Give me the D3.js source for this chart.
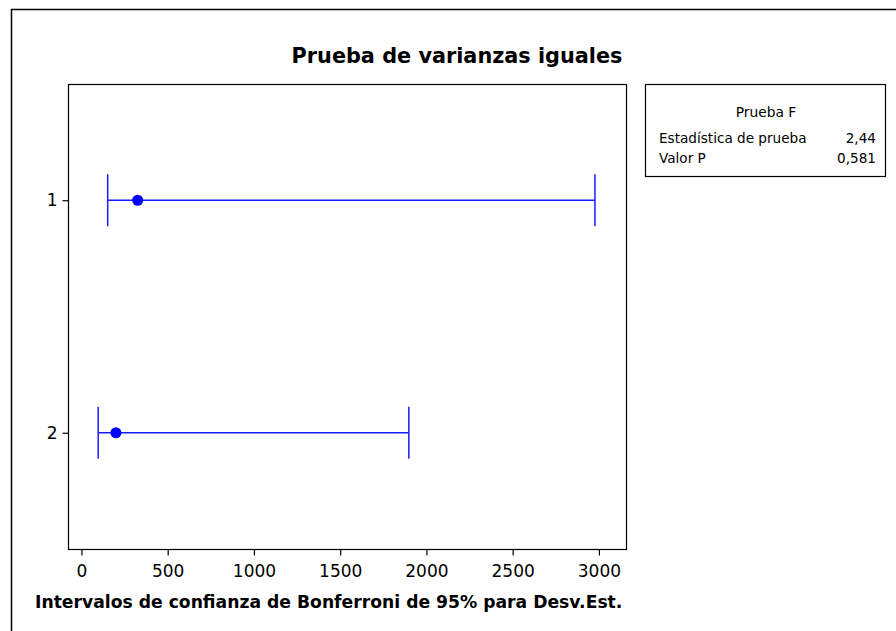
<!DOCTYPE html>
<html>
<head>
<meta charset="utf-8">
<script src="https://cdn.jsdelivr.net/npm/d3@7"></script>
<style>
  body { margin: 0; background: #fff; }
  text { font-family: "DejaVu Sans", sans-serif; }
</style>
</head>
<body>
<div id="chart"></div>
<script>
// data
var groups = ["1", "2"]
var lower  = [152, 97]
var sigma  = [326, 200]
var upper  = [2977, 1898]
var xTicks = [0, 500, 1000, 1500, 2000, 2500, 3000]
var legendTitle = "Prueba F"
var legendNames = ["Estadística de prueba", "Valor P"]
var legendValues = ["2,44", "0,581"]

var W = 896, H = 631
var pLeft = 68, pTop = 84, pRight = 626, pBottom = 549
var blue = "#1a1aff"

var svg = d3.select("#chart").append("svg")
  .attr("width", W)
  .attr("height", H)

// outer border (runs off the right and bottom)
svg.append("rect")
  .attr("x", 11.5).attr("y", 9.5)
  .attr("width", 900).attr("height", 640)
  .attr("fill", "none").attr("stroke", "#000").attr("stroke-width", 1.5)

// title
svg.append("text")
  .attr("x", 457).attr("y", 63)
  .attr("text-anchor", "middle")
  .attr("font-size", 20.8).attr("font-weight", "bold")
  .text("Prueba de varianzas iguales")

var x = d3.scaleLinear().domain([-78, 3157]).range([pLeft, pRight])
var y = d3.scalePoint().domain(groups).range([pTop, pBottom]).padding(0.5)

// plot frame
svg.append("rect")
  .attr("x", pLeft + 0.5).attr("y", pTop + 0.5)
  .attr("width", pRight - pLeft).attr("height", pBottom - pTop)
  .attr("fill", "none").attr("stroke", "#000").attr("stroke-width", 1.2)

// x axis
var gx = svg.append("g")
  .attr("transform", "translate(0," + (pBottom + 0.5) + ")")
  .call(d3.axisBottom(x).tickValues(xTicks).tickFormat(d3.format("d"))
    .tickSize(6).tickSizeOuter(0).tickPadding(9))
gx.select(".domain").remove()
gx.selectAll("line").attr("stroke", "#000").attr("stroke-width", 1.2)
gx.selectAll("text").attr("font-size", 17).attr("fill", "#000")
  .attr("font-family", "\"DejaVu Sans\", sans-serif")

// y axis
var gy = svg.append("g")
  .attr("transform", "translate(" + (pLeft + 0.5) + ",0)")
  .call(d3.axisLeft(y).tickSize(6).tickSizeOuter(0).tickPadding(5))
gy.select(".domain").remove()
gy.selectAll("line").attr("stroke", "#000").attr("stroke-width", 1.2)
gy.selectAll("text").attr("font-size", 17).attr("fill", "#000")
  .attr("font-family", "\"DejaVu Sans\", sans-serif")

// x axis title
svg.append("text")
  .attr("x", 35).attr("y", 608)
  .attr("font-size", 17.2).attr("font-weight", "bold")
  .text("Intervalos de confianza de Bonferroni de 95% para Desv.Est.")

// intervals
var g = svg.append("g")
for (var i = 0; i < groups.length; i++) {
  var yy = y(groups[i])
  g.append("line")
    .attr("x1", x(lower[i])).attr("x2", x(upper[i]))
    .attr("y1", yy).attr("y2", yy)
    .attr("stroke", blue).attr("stroke-width", 1.5)
  g.append("line")
    .attr("x1", x(lower[i])).attr("x2", x(lower[i]))
    .attr("y1", yy - 26).attr("y2", yy + 26)
    .attr("stroke", blue).attr("stroke-width", 1.5)
  g.append("line")
    .attr("x1", x(upper[i])).attr("x2", x(upper[i]))
    .attr("y1", yy - 26).attr("y2", yy + 26)
    .attr("stroke", blue).attr("stroke-width", 1.5)
  g.append("circle")
    .attr("cx", x(sigma[i])).attr("cy", yy)
    .attr("r", 5.5).attr("fill", "#0000ff")
}

// legend box
var lg = svg.append("g")
lg.append("rect")
  .attr("x", 645.5).attr("y", 84.5)
  .attr("width", 240).attr("height", 92)
  .attr("fill", "none").attr("stroke", "#000").attr("stroke-width", 1.2)
lg.append("text")
  .attr("x", 766).attr("y", 117)
  .attr("text-anchor", "middle").attr("font-size", 13.8)
  .text(legendTitle)
for (var j = 0; j < legendNames.length; j++) {
  lg.append("text")
    .attr("x", 659).attr("y", 143 + j * 20)
    .attr("font-size", 13.6)
    .text(legendNames[j])
  lg.append("text")
    .attr("x", 876).attr("y", 143 + j * 20)
    .attr("text-anchor", "end").attr("font-size", 13.6)
    .text(legendValues[j])
}
</script>
</body>
</html>
